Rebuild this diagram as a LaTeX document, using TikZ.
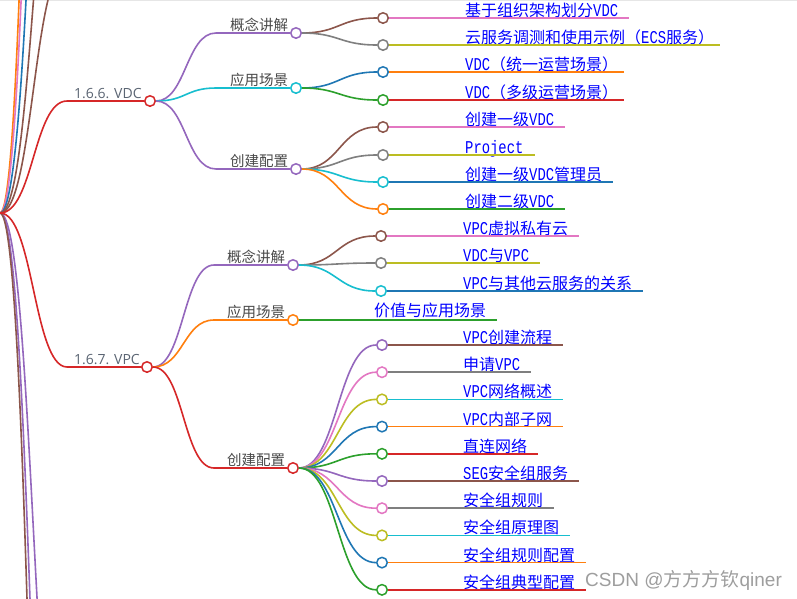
\documentclass[tikz,border=0pt]{standalone}
\usepackage{fontspec}
\setmainfont{Noto Sans CJK SC}
\newfontfamily\lmono[FakeStretch=0.77]{Liberation Mono}
\newfontfamily\lsans{Liberation Sans}
\newfontfamily\osans{Open Sans}
\usetikzlibrary{calc}
\newcommand\mtx[1]{{\lmono\fontsize{18}{18}\selectfont #1}}
\definecolor{cblue}{HTML}{1F77B4}
\definecolor{corange}{HTML}{FF7F0E}
\definecolor{cgreen}{HTML}{2CA02C}
\definecolor{cred}{HTML}{D62728}
\definecolor{cpurple}{HTML}{9467BD}
\definecolor{cbrown}{HTML}{8C564B}
\definecolor{cpink}{HTML}{E377C2}
\definecolor{cgray}{HTML}{7F7F7F}
\definecolor{colive}{HTML}{BCBD22}
\definecolor{ccyan}{HTML}{17BECF}
\definecolor{leafblue}{HTML}{0000FF}
\definecolor{ltwo}{HTML}{4A4A4A}
\definecolor{lone}{HTML}{5B6573}
\definecolor{wmgray}{HTML}{9E9E9E}
\definecolor{topgray}{HTML}{E6E6E6}
\tikzset{
  mm/.style={to path={let \p1=(\tikztostart), \p2=(\tikztotarget) in
      .. controls ({(\x1+\x2)/2},\y1) and ({(\x1+\x2)/2},\y2) .. (\tikztotarget)}},
  lk/.style={line width=1.6pt},
  dot/.style={circle, draw=#1, fill=white, line width=1.5pt, minimum size=10.5pt, inner sep=0pt},
  lf/.style={anchor=base west, inner sep=0pt, text=leafblue, font=\fontsize{16}{16}\selectfont},
  ltxt/.style={anchor=base west, inner sep=0pt, text=ltwo, font=\fontsize{14.5}{14.5}\selectfont},
  lonetxt/.style={anchor=base west, inner sep=0pt, text=lone, font=\osans\fontsize{14}{14}\selectfont},
  wm/.style={anchor=base west, inner sep=0pt, text=wmgray, font=\fontsize{19}{19}\selectfont},
}
\begin{document}
\begin{tikzpicture}[x=1pt,y=-1pt]
\useasboundingbox (0,0) rectangle (797,598);
\clip (0,0) rectangle (797,598);
\fill[white] (0,0) rectangle (797,598);
\draw[topgray, line width=1pt] (0,0.7) -- (797,0.7);

% root and off-canvas branches
\coordinate (root) at (0,213);
\coordinate (o1) at (67,-35);
\coordinate (o2) at (67,-213);
\coordinate (o3) at (67,-524);
\coordinate (o4) at (67,-975);
\coordinate (o5) at (67,-1288);
\coordinate (u1) at (67,850);
\coordinate (u2) at (67,1186);
\coordinate (u3) at (67,1441);
\draw[lk,corange] (root) to[mm] (o5);
\draw[lk,cpink] (root) to[mm] (o4);
\draw[lk,cblue] (root) to[mm] (o3);
\draw[lk,cbrown] (root) to[mm] (o2);
\draw[lk,cbrown] (root) to[mm] (o1);
\draw[lk,cpurple] (root) to[mm] (u1);
\draw[lk,cpurple] (root) to[mm] (u2);
\draw[lk,cbrown] (root) to[mm] (u3);

% level 1
\coordinate (vdcS) at (67,101);
\node[dot=cred] (vdc) at (150,101) {};
\node[lonetxt] (vdcT) at (74,98) {1.6.6. VDC};
\draw[lk,cred] (root) to[mm] (vdcS) -- (vdc.west);

\coordinate (vpcS) at (67,367);
\node[dot=cred] (vpc) at (147,367) {};
\node[lonetxt] (vpcT) at (74,364) {1.6.7. VPC};
\draw[lk,cred] (root) to[mm] (vpcS) -- (vpc.west);

% level 2 VDC
\coordinate (k1S) at (216,33);
\node[dot=cpurple] (k1) at (296,33) {};
\node[ltxt] (k1T) at (230,30) {概念讲解};
\draw[lk,cpurple] (vdc.east) to[mm] (k1S) -- (k1.west);

\coordinate (a1S) at (216,88);
\node[dot=ccyan] (a1) at (296,88) {};
\node[ltxt] (a1T) at (230,85) {应用场景};
\draw[lk,ccyan] (vdc.east) to[mm] (a1S) -- (a1.west);

\coordinate (c1S) at (216,169);
\node[dot=cpurple] (c1) at (296,169) {};
\node[ltxt] (c1T) at (230,166) {创建配置};
\draw[lk,cpurple] (vdc.east) to[mm] (c1S) -- (c1.west);

% level 2 VPC
\coordinate (k2S) at (214,265);
\node[dot=cpurple] (k2) at (293,265) {};
\node[ltxt] (k2T) at (227,262) {概念讲解};
\draw[lk,cpurple] (vpc.east) to[mm] (k2S) -- (k2.west);

\coordinate (a2S) at (214,320);
\node[dot=corange] (a2) at (293,320) {};
\node[ltxt] (a2T) at (227,317) {应用场景};
\draw[lk,corange] (vpc.east) to[mm] (a2S) -- (a2.west);

\coordinate (c2S) at (214,468);
\node[dot=cred] (c2) at (293,468) {};
\node[ltxt] (c2T) at (227,465) {创建配置};
\draw[lk,cred] (vpc.east) to[mm] (c2S) -- (c2.west);

% level 3 VDC
\node[dot=cbrown] (v1) at (383,18) {};
\node[lf] (t1) at (465,16.5) {基于组织架构划分\mtx{VDC}};
\draw[lk,cbrown] (k1.east) to[mm] (v1.west);
\draw[lk,cpink] (v1.east) -- (v1.east -| t1.east) -- ++(11,0);

\node[dot=cgray] (v2) at (383,45) {};
\node[lf] (t2) at (465,43.5) {云服务调测和使用示例（\mtx{ECS}服务）};
\draw[lk,cgray] (k1.east) to[mm] (v2.west);
\draw[lk,colive] (v2.east) -- (v2.east -| t2.east) -- ++(6,0);

\node[dot=cblue] (v3) at (383,72) {};
\node[lf] (t3) at (465,70.5) {\mtx{VDC}（统一运营场景）};
\draw[lk,cblue] (a1.east) to[mm] (v3.west);
\draw[lk,corange] (v3.east) -- (v3.east -| t3.east) -- ++(6,0);

\node[dot=cgreen] (v4) at (383,100) {};
\node[lf] (t4) at (465,98.5) {\mtx{VDC}（多级运营场景）};
\draw[lk,cgreen] (a1.east) to[mm] (v4.west);
\draw[lk,cred] (v4.east) -- (v4.east -| t4.east) -- ++(6,0);

\node[dot=cbrown] (v5) at (383,127) {};
\node[lf] (t5) at (465,125.5) {创建一级\mtx{VDC}};
\draw[lk,cbrown] (c1.east) to[mm] (v5.west);
\draw[lk,cpink] (v5.east) -- (v5.east -| t5.east) -- ++(11,0);

\node[dot=cgray] (v6) at (383,155) {};
\node[lf] (t6) at (465,153.5) {\mtx{Project}};
\draw[lk,cgray] (c1.east) to[mm] (v6.west);
\draw[lk,colive] (v6.east) -- (v6.east -| t6.east) -- ++(11,0);

\node[dot=ccyan] (v7) at (383,182) {};
\node[lf] (t7) at (465,180.5) {创建一级\mtx{VDC}管理员};
\draw[lk,ccyan] (c1.east) to[mm] (v7.west);
\draw[lk,cblue] (v7.east) -- (v7.east -| t7.east) -- ++(11,0);

\node[dot=corange] (v8) at (383,209) {};
\node[lf] (t8) at (465,207.5) {创建二级\mtx{VDC}};
\draw[lk,corange] (c1.east) to[mm] (v8.west);
\draw[lk,cgreen] (v8.east) -- (v8.east -| t8.east) -- ++(11,0);

% level 3 VPC concept
\node[dot=cbrown] (p1) at (381,236) {};
\node[lf] (s1) at (463,234.5) {\mtx{VPC}虚拟私有云};
\draw[lk,cbrown] (k2.east) to[mm] (p1.west);
\draw[lk,cpink] (p1.east) -- (p1.east -| s1.east) -- ++(11,0);

\node[dot=cgray] (p2) at (381,263) {};
\node[lf] (s2) at (463,261.5) {\mtx{VDC}与\mtx{VPC}};
\draw[lk,cgray] (k2.east) to[mm] (p2.west);
\draw[lk,colive] (p2.east) -- (p2.east -| s2.east) -- ++(11,0);

\node[dot=ccyan] (p3) at (381,291) {};
\node[lf] (s3) at (463,289.5) {\mtx{VPC}与其他云服务的关系};
\draw[lk,ccyan] (k2.east) to[mm] (p3.west);
\draw[lk,cblue] (p3.east) -- (p3.east -| s3.east) -- ++(11,0);

% application
\node[lf] (sv) at (374,316.5) {价值与应用场景};
\draw[lk,cgreen] (a2.east) -- (a2.east -| sv.east) -- ++(11,0);

% level 3 VPC create
\node[dot=cpurple] (q1) at (382,345) {};
\node[lf] (r1) at (463,343.5) {\mtx{VPC}创建流程};
\draw[lk,cpurple] (c2.east) to[mm] (q1.west);
\draw[lk,cbrown] (q1.east) -- (q1.east -| r1.east) -- ++(11,0);

\node[dot=cpink] (q2) at (382,372.2) {};
\node[lf] (r2) at (463,370.7) {申请\mtx{VPC}};
\draw[lk,cpink] (c2.east) to[mm] (q2.west);
\draw[lk,cgray] (q2.east) -- (q2.east -| r2.east) -- ++(11,0);

\node[dot=colive] (q3) at (382,399.4) {};
\node[lf] (r3) at (463,397.9) {\mtx{VPC}网络概述};
\draw[lk,colive] (c2.east) to[mm] (q3.west);
\draw[lk,ccyan] (q3.east) -- (q3.east -| r3.east) -- ++(11,0);

\node[dot=cblue] (q4) at (382,426.6) {};
\node[lf] (r4) at (463,425.1) {\mtx{VPC}内部子网};
\draw[lk,cblue] (c2.east) to[mm] (q4.west);
\draw[lk,corange] (q4.east) -- (q4.east -| r4.east) -- ++(11,0);

\node[dot=cgreen] (q5) at (382,453.8) {};
\node[lf] (r5) at (463,452.3) {直连网络};
\draw[lk,cgreen] (c2.east) to[mm] (q5.west);
\draw[lk,cred] (q5.east) -- (q5.east -| r5.east) -- ++(11,0);

\node[dot=cpurple] (q6) at (382,481) {};
\node[lf] (r6) at (463,479.5) {\mtx{SEG}安全组服务};
\draw[lk,cpurple] (c2.east) to[mm] (q6.west);
\draw[lk,cbrown] (q6.east) -- (q6.east -| r6.east) -- ++(11,0);

\node[dot=cpink] (q7) at (382,508.2) {};
\node[lf] (r7) at (463,506.7) {安全组规则};
\draw[lk,cpink] (c2.east) to[mm] (q7.west);
\draw[lk,cgray] (q7.east) -- (q7.east -| r7.east) -- ++(11,0);

\node[dot=colive] (q8) at (382,535.4) {};
\node[lf] (r8) at (463,533.9) {安全组原理图};
\draw[lk,colive] (c2.east) to[mm] (q8.west);
\draw[lk,ccyan] (q8.east) -- (q8.east -| r8.east) -- ++(11,0);

\node[dot=cblue] (q9) at (382,562.6) {};
\node[lf] (r9) at (463,561.1) {安全组规则配置};
\draw[lk,cblue] (c2.east) to[mm] (q9.west);
\draw[lk,corange] (q9.east) -- (q9.east -| r9.east) -- ++(11,0);

\node[dot=cgreen] (q10) at (382,589.8) {};
\node[lf] (r10) at (463,588.3) {安全组典型配置};
\draw[lk,cgreen] (c2.east) to[mm] (q10.west);
\draw[lk,cred] (q10.east) -- (q10.east -| r10.east) -- ++(11,0);

% watermark
\node[wm] (wmk) at (585,586) {{\lsans CSDN @}方方方钦{\lsans qiner}};
\end{tikzpicture}
\end{document}
